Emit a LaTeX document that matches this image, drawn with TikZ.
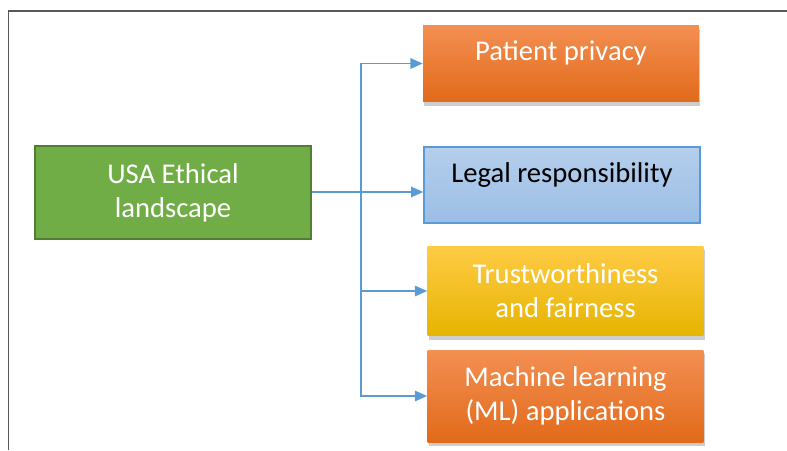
\documentclass[tikz,border=0pt]{standalone}
\usepackage{fontspec}
\setmainfont{Carlito}
\usetikzlibrary{arrows.meta,shadows}
\definecolor{linkblue}{HTML}{5B9BD5}
\definecolor{usagreen}{HTML}{70AD47}
\definecolor{usaedge}{HTML}{507E32}
\newcommand{\boxfont}{\fontsize{16.3}{19.5}\selectfont}

\begin{document}
\begin{tikzpicture}[x=0.02cm,y=-0.02cm,
  box/.style={rectangle,minimum width=5.52cm,inner sep=0pt,font=\boxfont,text=white},
  oneline/.style={text height=0.75em,text depth=1.05em},
  twoline/.style={align=center},
  shade/.style={drop shadow={shadow xshift=0.6pt,shadow yshift=-2.2pt,opacity=0.28,fill=black!70}},
  orangebox/.style={box,shade,
    top color={rgb,255:red,243;green,143;blue,82},middle color={rgb,255:red,241;green,123;blue,38},
    bottom color={rgb,255:red,226;green,106;blue,26}},
  link/.style={draw=linkblue,line width=0.85pt,-{Triangle[length=7pt,width=6pt]}}]

  \useasboundingbox (0,0) rectangle (787,450);
  \draw[line width=1.1pt,draw=black!65] (8.5,450) -- (8.5,11) -- (787,11);

  \node[box,twoline,minimum height=1.86cm,fill=usagreen,draw=usaedge,line width=0.8pt]
    (usa) at (173,192.5) {USA Ethical\\landscape};

  \node[orangebox,oneline,minimum height=1.54cm] (patient) at (561,63.5) {Patient privacy};

  \node[box,oneline,minimum height=1.52cm,text=black,draw=linkblue,line width=0.8pt,
    top color={rgb,255:red,181;green,206;blue,236},bottom color={rgb,255:red,155;green,190;blue,229}]
    (legal) at (562,185) {Legal responsibility};

  \node[box,twoline,shade,minimum height=1.8cm,
    top color={rgb,255:red,255;green,203;blue,70},middle color={rgb,255:red,255;green,192;blue,0},
    bottom color={rgb,255:red,230;green,180;blue,0}]
    (trust) at (565.5,291) {Trustworthiness\\and fairness};

  \node[orangebox,twoline,minimum height=1.84cm] (ml) at (565.5,396) {Machine learning\\(ML) applications};

  \coordinate (split) at (361,192);

  \draw[link] (usa.east |- split) -- (split -| legal.west);
  \draw[link] (split) |- (patient.west);
  \draw[link] (split) |- (trust.west);
  \draw[link] (split) |- (ml.west);

\end{tikzpicture}
\end{document}
